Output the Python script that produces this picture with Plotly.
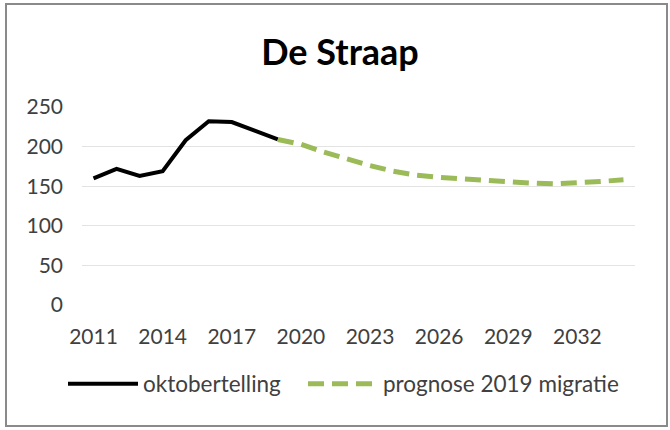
import plotly.graph_objects as go

years_hist = list(range(2011, 2020))
oktobertelling = [160, 172, 163, 169, 208, 232, 231, 220, 209]

years_prog = list(range(2019, 2035))
prognose = [209, 203, 193, 184, 176, 169, 164, 161, 159, 156.5, 155, 154, 153, 154, 156, 158]

x_ticks = list(range(2011, 2033, 3))
y_ticks = [0, 50, 100, 150, 200, 250]

FONT = "Lato"
W, H = 670, 430
L, R, T, B = 82, 35, 107, 125

fig = go.Figure()
fig.add_trace(go.Scatter(x=years_hist, y=oktobertelling, mode="lines", name="oktobertelling",
                         line=dict(color="black", width=4), legend="legend"))
fig.add_trace(go.Scatter(x=years_prog, y=prognose, mode="lines", name="prognose 2019 migratie",
                         line=dict(color="#9BBB59", width=5, dash="16px,8px"), legend="legend2"))

pw, ph = W - L - R, H - T - B
def px_x(p):
    return (p - L) / pw
def px_y(p):
    return (H - B - p) / ph

fig.add_shape(type="rect", xref="paper", yref="paper",
              x0=px_x(6), x1=px_x(667), y0=px_y(426), y1=px_y(4),
              line=dict(color="#8a8a8a", width=2), fillcolor="rgba(0,0,0,0)", layer="below")

leg_common = dict(orientation="h", xanchor="left", yanchor="middle", y=px_y(384),
                  itemwidth=70, font=dict(size=22.5, color="#404040"),
                  bgcolor="rgba(0,0,0,0)", borderwidth=0)

fig.update_layout(
    width=W, height=H,
    margin=dict(l=L, r=R, t=T, b=B),
    paper_bgcolor="white", plot_bgcolor="white",
    font=dict(family=FONT, color="#404040", size=21),
    title=dict(text="<b>De Straap</b>", x=340 / W, xref="container", xanchor="center",
               y=1 - 52 / H, yref="container", yanchor="middle",
               font=dict(family=FONT, size=36, color="black")),
    xaxis=dict(range=[2010.5, 2034.5], tickvals=x_ticks, ticktext=[str(v) for v in x_ticks],
               showgrid=False, zeroline=False, showline=False, ticks="",
               ticklabelstandoff=17, tickfont=dict(size=21, color="#404040")),
    yaxis=dict(range=[0, 250], tickvals=y_ticks, showgrid=True, gridcolor="#e3e3e3", gridwidth=1,
               zeroline=False, showline=False, ticks="", ticklabelstandoff=18,
               tickfont=dict(size=21, color="#404040")),
    showlegend=True,
    legend=dict(x=px_x(63), **leg_common),
    legend2=dict(x=px_x(303), **leg_common),
)

fig.write_html("out.html", config={"displayModeBar": False},
               post_script="document.body.style.margin='0px';")
